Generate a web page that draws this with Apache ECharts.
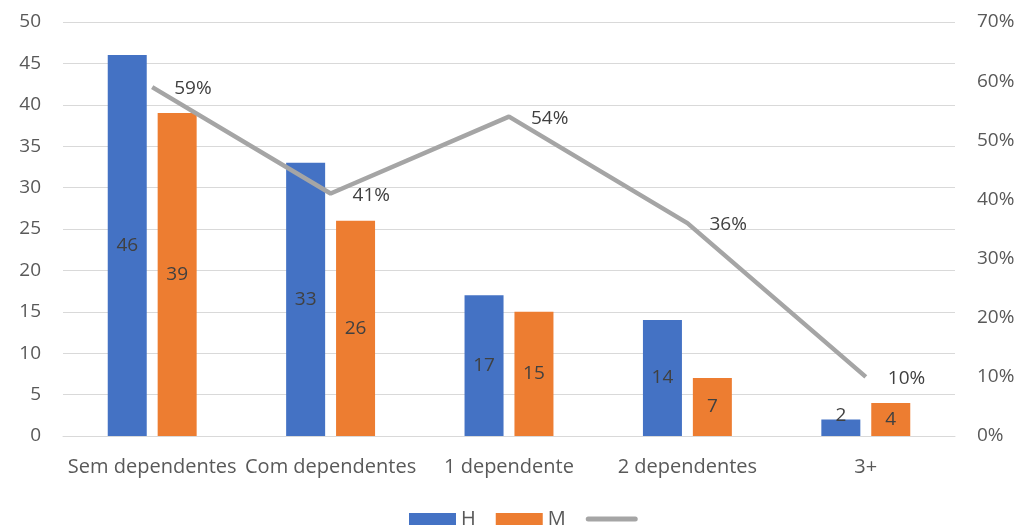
<!DOCTYPE html>
<html>
<head>
<meta charset="utf-8">
<script src="https://cdn.jsdelivr.net/npm/echarts@6/dist/echarts.min.js"></script>
<style>html,body{margin:0;padding:0;background:#fff}#c{width:1035px;height:529px}</style>
</head>
<body>
<div id="c"></div>
<script>
var categories = ['Sem dependentes', 'Com dependentes', '1 dependente', '2 dependentes', '3+'];
var valuesH = [46, 33, 17, 14, 2];
var valuesM = [39, 26, 15, 7, 4];
var shareLine = [0.59, 0.41, 0.54, 0.36, 0.10];
var seriesNames = ['H', 'M', ' '];

var FONT = 'Open Sans';
var AXIS_COLOR = '#595959';
var LABEL_COLOR = '#404040';

function barData(vals) {
  return vals.map(function (v) {
    var item = { value: v };
    if (v < 3) item.label = { offset: [0, -12] };
    return item;
  });
}

var chart = echarts.init(document.getElementById('c'), null, { renderer: 'canvas' });
chart.setOption({
  animation: false,
  textStyle: { fontFamily: FONT },
  grid: { left: 63, right: 80, top: 22, bottom: 93, containLabel: false },
  legend: {
    top: 504,
    left: 404,
    itemWidth: 47,
    itemHeight: 12,
    itemGap: 20,
    textStyle: { fontFamily: FONT, fontSize: 20, color: AXIS_COLOR },
    data: [
      { name: seriesNames[0], icon: 'rect' },
      { name: seriesNames[1], icon: 'rect' },
      { name: seriesNames[2], itemStyle: { opacity: 0 }, lineStyle: { width: 5, cap: 'round', color: '#A5A5A5' } }
    ]
  },
  xAxis: {
    type: 'category',
    data: categories,
    axisLine: { show: true, lineStyle: { color: '#d9d9d9', width: 1 } },
    axisTick: { show: false },
    axisLabel: { fontFamily: FONT, fontSize: 20, color: AXIS_COLOR, margin: 21, interval: 0 }
  },
  yAxis: [
    {
      type: 'value', min: 0, max: 50, interval: 5,
      axisLine: { show: false }, axisTick: { show: false },
      splitLine: { lineStyle: { color: '#d9d9d9', width: 1 } },
      axisLabel: { fontFamily: FONT, fontSize: 19, color: AXIS_COLOR, margin: 22 }
    },
    {
      type: 'value', min: 0, max: 0.7, interval: 0.1,
      axisLine: { show: false }, axisTick: { show: false },
      splitLine: { show: false },
      axisLabel: {
        fontFamily: FONT, fontSize: 19, color: AXIS_COLOR, margin: 22,
        formatter: function (v) { return Math.round(v * 100) + '%'; }
      }
    }
  ],
  series: [
    {
      name: seriesNames[0], type: 'bar', data: barData(valuesH),
      barWidth: 39, barGap: '28%',
      itemStyle: { color: '#4472C4' },
      label: { show: true, position: 'inside', fontFamily: FONT, fontSize: 19, color: LABEL_COLOR }
    },
    {
      name: seriesNames[1], type: 'bar', data: barData(valuesM),
      barWidth: 39, barGap: '28%',
      itemStyle: { color: '#ED7D31' },
      label: { show: true, position: 'inside', fontFamily: FONT, fontSize: 19, color: LABEL_COLOR }
    },
    {
      name: seriesNames[2], type: 'line', yAxisIndex: 1, data: shareLine,
      symbol: 'circle', symbolSize: 0, showSymbol: true,
      lineStyle: { color: '#A5A5A5', width: 4.5 },
      itemStyle: { color: '#A5A5A5' },
      label: {
        show: true, position: 'right', distance: 22, offset: [0, 2],
        fontFamily: FONT, fontSize: 19, color: LABEL_COLOR,
        formatter: function (p) { return Math.round(p.value * 100) + '%'; }
      }
    }
  ]
});
</script>
</body>
</html>
